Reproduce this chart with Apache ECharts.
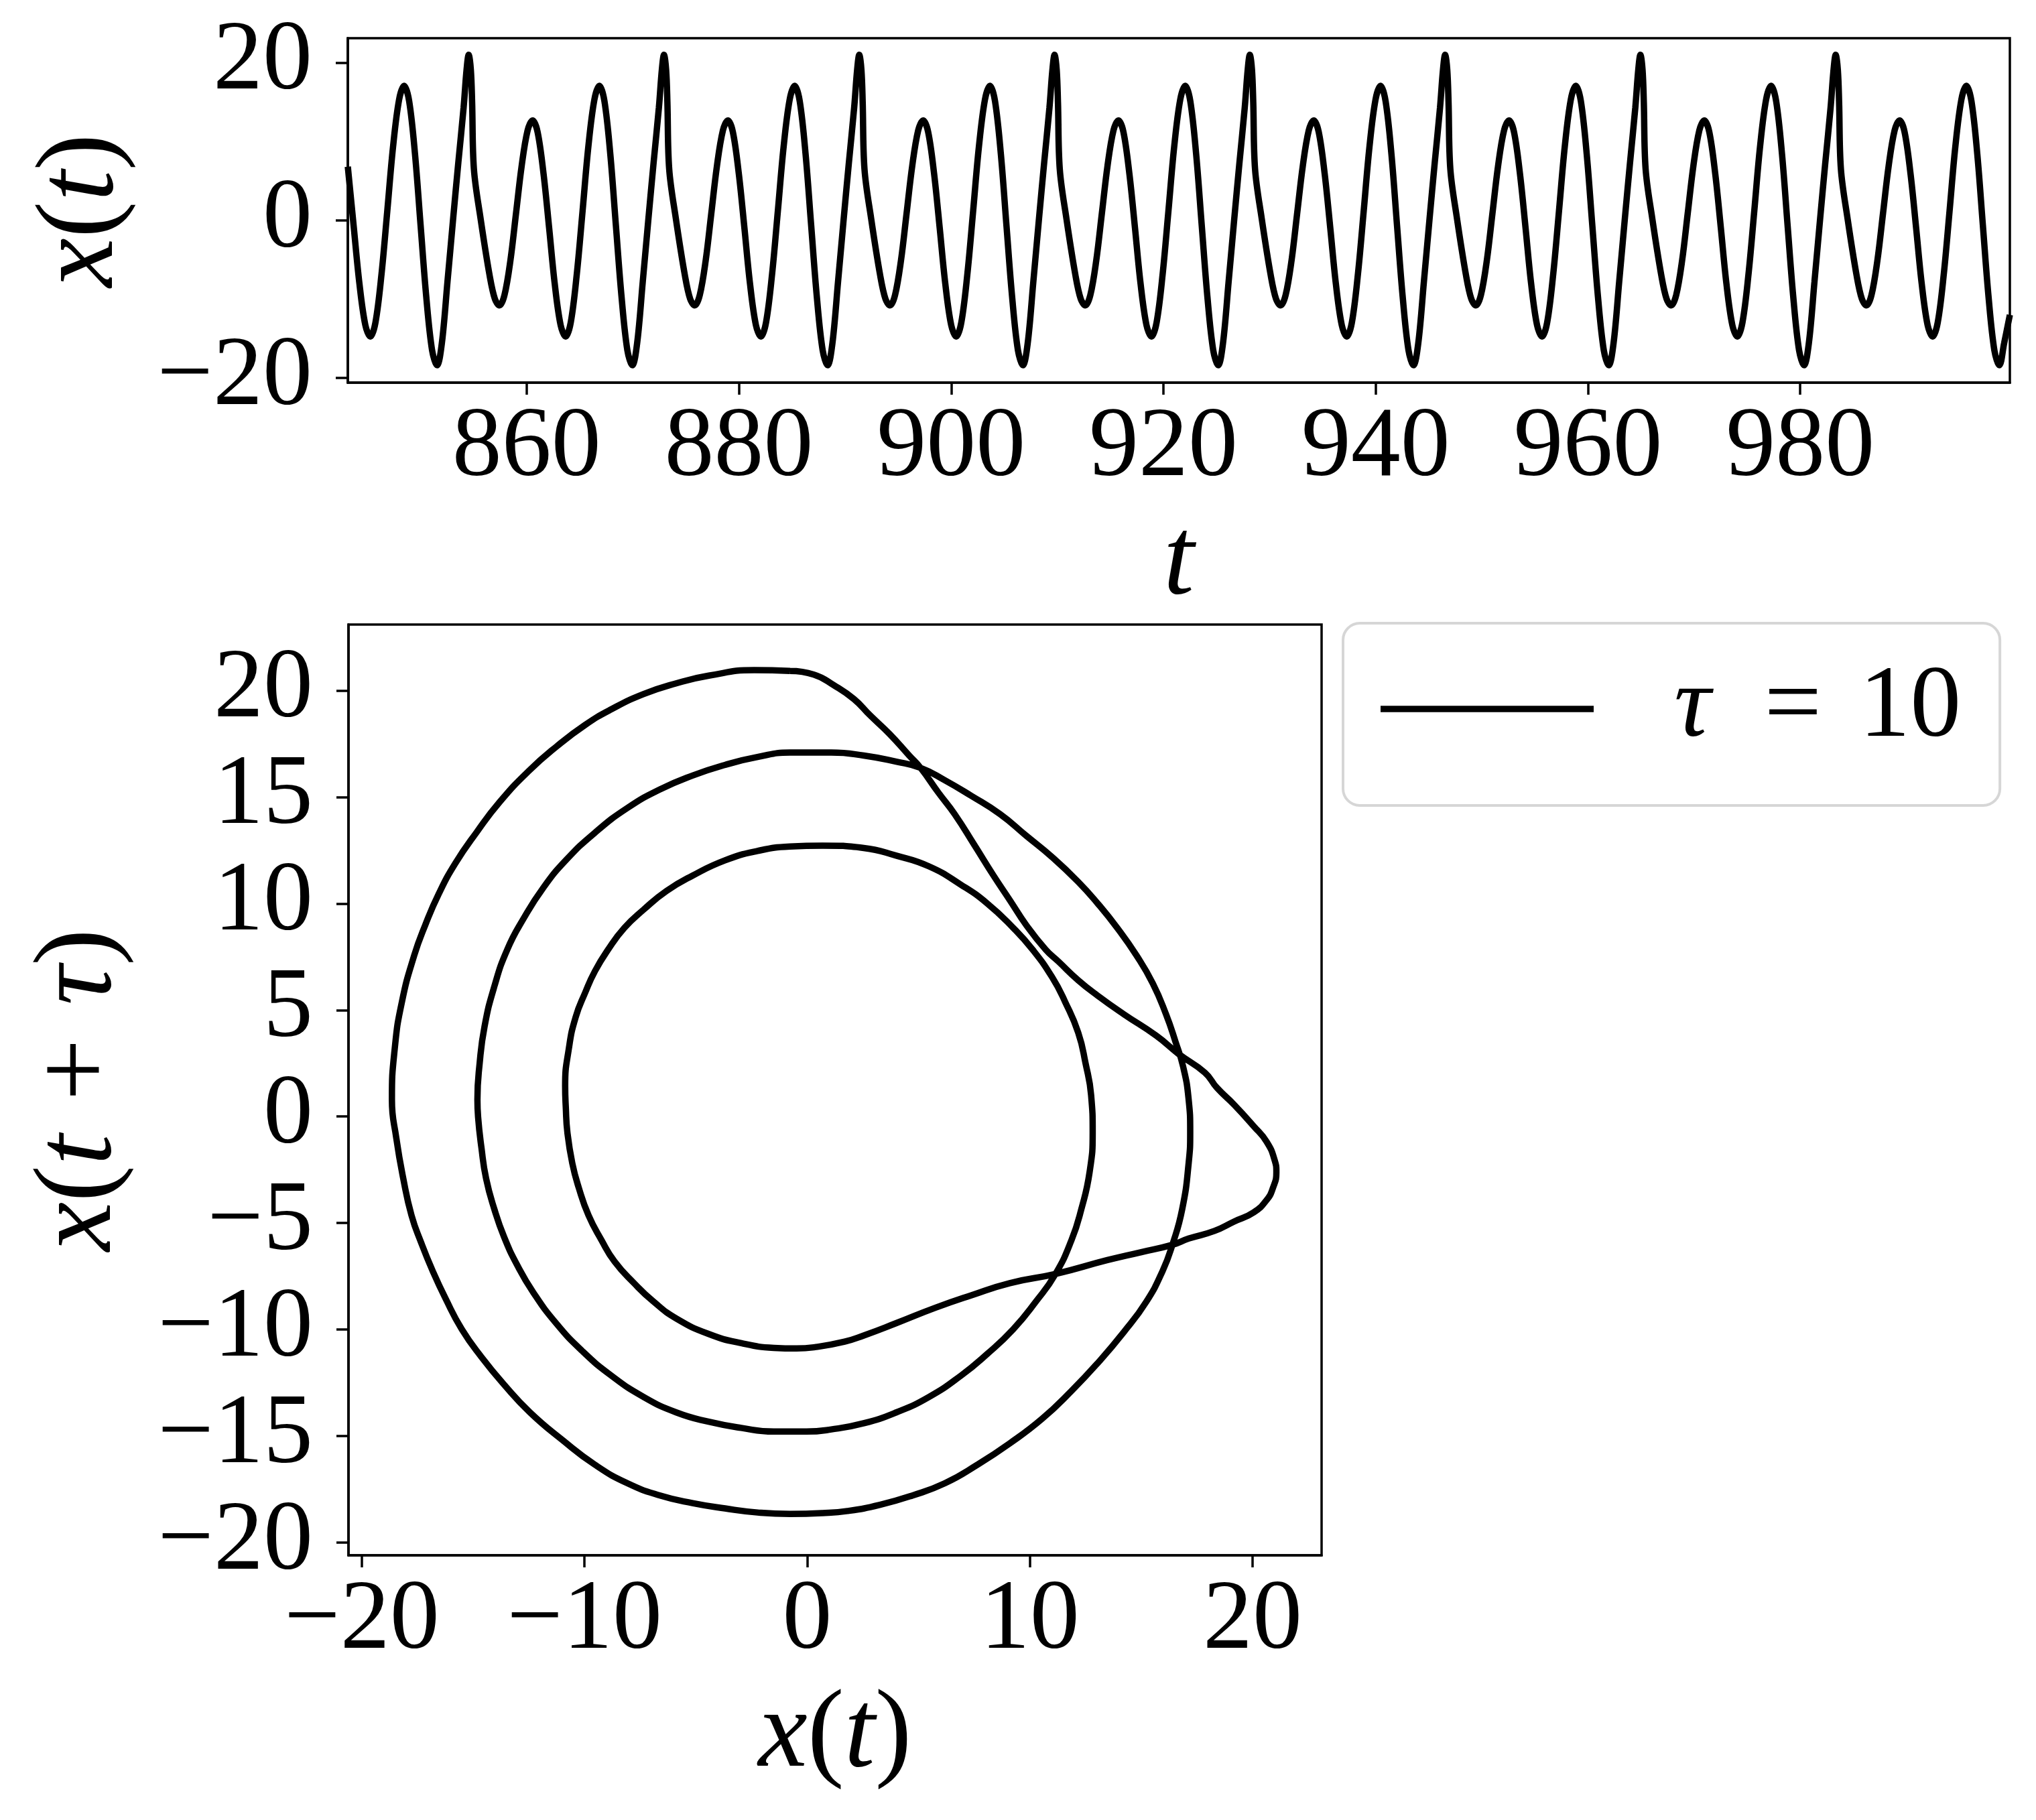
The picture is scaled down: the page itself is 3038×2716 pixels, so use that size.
<!DOCTYPE html>
<html><head><meta charset="utf-8">
<script src="https://cdn.jsdelivr.net/npm/echarts@6/dist/echarts.min.js"></script>
<style>html,body{margin:0;padding:0;background:#fff}#c{width:3038px;height:2716px}</style>
</head><body><div id="c"></div>
<script>
// ---------- data ----------
const timeTicks = [860, 880, 900, 920, 940, 960, 980];
const timeValueTicks = [-20, 0, 20];
const delayXTicks = [-20, -10, 0, 10, 20];
const delayYTicks = [-20, -15, -10, -5, 0, 5, 10, 15, 20];
const legendLabel = 'τ = 10';

// x(t): [t, x]
const timeSeries = [
[843.15,6.8],[843.72,-1.0],[844.24,-8.0],[844.80,-13.3],[845.27,-14.75],[845.75,-13.0],[846.32,-6.9],[846.87,1.2],[847.41,9.3],[847.98,15.3],[848.46,17.06],[848.93,15.1],[849.48,8.4],[850.01,-0.7],[850.54,-9.7],[851.09,-16.5],
[851.56,-18.4],[852.01,-15.6],[852.54,-7.8],[853.08,0.3],[853.56,7.3],[854.06,14.3],[854.34,19.1],[854.54,21.0],[854.74,19.1],[854.86,15.0],[855.03,6.5],[855.66,0.2],[856.51,-7.0],[857.01,-10.0],[857.44,-10.8],[857.91,-9.5],[858.47,-5.1],[859.00,0.9],[859.53,6.9],[860.09,11.4],[860.56,12.66],[861.03,11.2],[861.59,5.9],[862.12,-1.0],[862.64,-8.0],[863.20,-13.3],[863.67,-14.75],[864.15,-13.0],[864.72,-6.9],[865.27,1.2],[865.81,9.3],[866.38,15.3],[866.86,17.06],[867.33,15.1],[867.88,8.4],[868.41,-0.7],[868.94,-9.7],[869.49,-16.5],
[869.96,-18.4],[870.41,-15.6],[870.94,-7.8],[871.48,0.3],[871.96,7.3],[872.46,14.3],[872.74,19.1],[872.94,21.0],[873.14,19.1],[873.26,15.0],[873.43,6.5],[874.06,0.2],[874.91,-7.0],[875.41,-10.0],[875.84,-10.8],[876.31,-9.5],[876.87,-5.1],[877.40,0.9],[877.93,6.9],[878.49,11.4],[878.96,12.66],[879.43,11.2],[879.99,5.9],[880.52,-1.0],[881.04,-8.0],[881.60,-13.3],[882.07,-14.75],[882.55,-13.0],[883.12,-6.9],[883.67,1.2],[884.21,9.3],[884.78,15.3],[885.26,17.06],[885.73,15.1],[886.28,8.4],[886.81,-0.7],[887.34,-9.7],[887.89,-16.5],
[888.36,-18.4],[888.81,-15.6],[889.34,-7.8],[889.88,0.3],[890.36,7.3],[890.86,14.3],[891.14,19.1],[891.34,21.0],[891.54,19.1],[891.66,15.0],[891.83,6.5],[892.46,0.2],[893.31,-7.0],[893.81,-10.0],[894.24,-10.8],[894.71,-9.5],[895.27,-5.1],[895.80,0.9],[896.33,6.9],[896.89,11.4],[897.36,12.66],[897.83,11.2],[898.39,5.9],[898.92,-1.0],[899.44,-8.0],[900.00,-13.3],[900.47,-14.75],[900.95,-13.0],[901.52,-6.9],[902.07,1.2],[902.61,9.3],[903.18,15.3],[903.66,17.06],[904.13,15.1],[904.68,8.4],[905.21,-0.7],[905.74,-9.7],[906.29,-16.5],
[906.76,-18.4],[907.21,-15.6],[907.74,-7.8],[908.28,0.3],[908.76,7.3],[909.26,14.3],[909.54,19.1],[909.74,21.0],[909.94,19.1],[910.06,15.0],[910.23,6.5],[910.86,0.2],[911.71,-7.0],[912.21,-10.0],[912.64,-10.8],[913.11,-9.5],[913.67,-5.1],[914.20,0.9],[914.73,6.9],[915.29,11.4],[915.76,12.66],[916.23,11.2],[916.79,5.9],[917.32,-1.0],[917.84,-8.0],[918.40,-13.3],[918.87,-14.75],[919.35,-13.0],[919.92,-6.9],[920.47,1.2],[921.01,9.3],[921.58,15.3],[922.06,17.06],[922.53,15.1],[923.08,8.4],[923.61,-0.7],[924.14,-9.7],[924.69,-16.5],
[925.16,-18.4],[925.61,-15.6],[926.14,-7.8],[926.68,0.3],[927.16,7.3],[927.66,14.3],[927.94,19.1],[928.14,21.0],[928.34,19.1],[928.46,15.0],[928.63,6.5],[929.26,0.2],[930.11,-7.0],[930.61,-10.0],[931.04,-10.8],[931.51,-9.5],[932.07,-5.1],[932.60,0.9],[933.13,6.9],[933.69,11.4],[934.16,12.66],[934.63,11.2],[935.19,5.9],[935.72,-1.0],[936.24,-8.0],[936.80,-13.3],[937.27,-14.75],[937.75,-13.0],[938.32,-6.9],[938.87,1.2],[939.41,9.3],[939.98,15.3],[940.46,17.06],[940.93,15.1],[941.48,8.4],[942.01,-0.7],[942.54,-9.7],[943.09,-16.5],
[943.56,-18.4],[944.01,-15.6],[944.54,-7.8],[945.08,0.3],[945.56,7.3],[946.06,14.3],[946.34,19.1],[946.54,21.0],[946.74,19.1],[946.86,15.0],[947.03,6.5],[947.66,0.2],[948.51,-7.0],[949.01,-10.0],[949.44,-10.8],[949.91,-9.5],[950.47,-5.1],[951.00,0.9],[951.53,6.9],[952.09,11.4],[952.56,12.66],[953.03,11.2],[953.59,5.9],[954.12,-1.0],[954.64,-8.0],[955.20,-13.3],[955.67,-14.75],[956.15,-13.0],[956.72,-6.9],[957.27,1.2],[957.81,9.3],[958.38,15.3],[958.86,17.06],[959.33,15.1],[959.88,8.4],[960.41,-0.7],[960.94,-9.7],[961.49,-16.5],
[961.96,-18.4],[962.41,-15.6],[962.94,-7.8],[963.48,0.3],[963.96,7.3],[964.46,14.3],[964.74,19.1],[964.94,21.0],[965.14,19.1],[965.26,15.0],[965.43,6.5],[966.06,0.2],[966.91,-7.0],[967.41,-10.0],[967.84,-10.8],[968.31,-9.5],[968.87,-5.1],[969.40,0.9],[969.93,6.9],[970.49,11.4],[970.96,12.66],[971.43,11.2],[971.99,5.9],[972.52,-1.0],[973.04,-8.0],[973.60,-13.3],[974.07,-14.75],[974.55,-13.0],[975.12,-6.9],[975.67,1.2],[976.21,9.3],[976.78,15.3],[977.26,17.06],[977.73,15.1],[978.28,8.4],[978.81,-0.7],[979.34,-9.7],[979.89,-16.5],
[980.36,-18.4],[980.81,-15.6],[981.34,-7.8],[981.88,0.3],[982.36,7.3],[982.86,14.3],[983.14,19.1],[983.34,21.0],[983.54,19.1],[983.66,15.0],[983.83,6.5],[984.46,0.2],[985.31,-7.0],[985.81,-10.0],[986.24,-10.8],[986.71,-9.5],[987.27,-5.1],[987.80,0.9],[988.33,6.9],[988.89,11.4],[989.36,12.66],[989.83,11.2],[990.39,5.9],[990.92,-1.0],[991.44,-8.0],[992.00,-13.3],[992.47,-14.75],[992.95,-13.0],[993.52,-6.9],[994.07,1.2],[994.61,9.3],[995.18,15.3],[995.66,17.06],[996.13,15.1],[996.68,8.4],[997.21,-0.7],[997.74,-9.7],[998.29,-16.5],
[998.76,-18.4],[999.21,-15.6],[999.75,-12.0]
];

// delay embedding: [x(t), x(t+tau)]
const delayPoints = [
[-0.77,20.92],[-2.38,20.96],[-4.42,20.70],[-5.88,20.34],[-7.34,19.84],[-8.80,19.12],[-9.97,18.39],[-11.25,17.38],[-12.50,16.23],[-13.80,14.78],[-14.85,13.34],[-15.80,11.89],[-16.55,10.45],[-17.15,9.00],[-17.65,7.56],[-18.20,5.39],[-18.52,3.22],[-18.65,0.79],[-18.45,-1.03],[-18.14,-2.91],[-17.77,-4.64],[-17.33,-5.94],[-16.82,-7.25],[-16.24,-8.55],[-15.51,-9.99],[-14.63,-11.29],[-13.61,-12.59],[-12.45,-13.89],[-10.99,-15.19],[-9.53,-16.35],[-8.07,-17.22],[-6.61,-17.79],[-5.15,-18.15],[-3.69,-18.40],[-2.23,-18.59],[-0.77,-18.66],[0.69,-18.62],[1.81,-18.52],[3.27,-18.23],[4.73,-17.79],[6.18,-17.22],[7.64,-16.35],[9.10,-15.34],[10.56,-14.18],[11.87,-12.88],[13.04,-11.58],[14.21,-10.13],[15.23,-8.69],[15.96,-7.25],[16.40,-6.02],[16.84,-4.35],[17.13,-2.19],[17.20,-0.74],[17.12,0.90],[16.88,2.35],[16.54,3.51],[16.11,4.81],[15.52,6.25],[14.79,7.56],[13.92,8.86],[13.04,10.01],[12.17,11.02],[11.00,12.18],[9.83,13.19],[8.66,14.20],[7.35,15.07],[6.18,15.79],[5.09,16.37],[4.00,16.66],[2.54,16.95],[1.08,17.09],[-0.77,17.09],[-2.23,16.88],[-3.69,16.51],[-5.15,16.01],[-6.61,15.36],[-8.07,14.49],[-9.53,13.33],[-10.84,12.03],[-11.86,10.73],[-12.74,9.29],[-13.47,7.84],[-14.05,6.11],[-14.49,4.23],[-14.71,2.50],[-14.81,0.79],[-14.78,-0.02],[-14.63,-1.46],[-14.42,-2.91],[-14.05,-4.35],[-13.61,-5.66],[-13.03,-6.96],[-12.30,-8.26],[-11.28,-9.70],[-10.11,-11.00],[-8.80,-12.16],[-7.34,-13.17],[-5.88,-13.89],[-4.42,-14.33],[-2.96,-14.62],[-1.50,-14.79],[-0.04,-14.79],[1.08,-14.69],[2.54,-14.40],[4.00,-13.89],[5.46,-13.17],[6.91,-12.16],[8.08,-11.15],[9.25,-9.99],[10.27,-8.69],[11.15,-7.39],[11.87,-5.80],[12.31,-4.35],[12.68,-2.62],[12.82,-0.74],[12.75,1.00],[12.50,2.50],[12.17,3.94],[11.58,5.39],[11.00,6.54],[10.12,7.84],[9.25,8.86],[8.08,10.01],[6.91,10.88],[5.46,11.75],[4.00,12.25],[2.54,12.61],[0.69,12.72],[-0.77,12.68],[-2.23,12.47],[-3.69,12.03],[-5.15,11.31],[-6.32,10.59],[-7.34,9.72],[-8.21,8.86],[-8.94,7.84],[-9.53,6.83],[-9.97,5.82],[-10.40,4.66],[-10.70,3.22],[-10.87,1.43],[-10.84,0.41],[-10.77,-0.74],[-10.55,-2.19],[-10.26,-3.34],[-9.82,-4.64],[-9.24,-5.80],[-8.65,-6.81],[-7.78,-7.82],[-6.90,-8.69],[-5.88,-9.48],[-4.42,-10.21],[-2.96,-10.64],[-1.50,-10.86],[-0.48,-10.89],[0.39,-10.82],[1.68,-10.57],[2.54,-10.28],[4.00,-9.70],[5.75,-8.98],[7.35,-8.40],[9.10,-7.82],[11.15,-7.39],[13.48,-6.74],[14.94,-6.38],[16.40,-6.02],[17.13,-5.73],[18.29,-5.37],[19.17,-4.93],[20.05,-4.50],[20.63,-3.92],[20.92,-3.34],[21.07,-2.62],[20.99,-2.04],[20.63,-1.18],[20.05,-0.45],[19.17,0.56],[18.40,1.35],[17.86,2.06],[16.69,2.93],[15.67,3.80],[14.21,4.81],[13.04,5.68],[12.17,6.40],[11.29,7.27],[10.71,7.84],[9.83,9.00],[9.10,10.16],[8.37,11.31],[7.50,12.76],[6.62,14.20],[5.89,15.21],[5.09,16.37],[4.58,16.95],[3.70,17.96],[2.83,18.83],[2.10,19.60],[1.20,20.25],[0.30,20.75],[-0.77,20.92]
];

// ---------- styling ----------
const FONT = 'Liberation Serif';
const FS = 148;      // tick labels
const NFS = 165;     // axis names
const LINE_W = 9.5;
const fmt = v => String(v).replace('-', '\u2212');
const nameRich = {
  i: { fontStyle: 'italic', fontFamily: FONT, fontSize: NFS, color: '#000' },
  s: { width: 50 }
};

function valueAxis(ticks, gridIndex, min, max, margin, extra) {
  return Object.assign({
    type: 'value', gridIndex, min, max,
    axisLine: { show: true, onZero: false, lineStyle: { color: '#000', width: 3.5 } },
    axisTick: { show: true, length: 18, customValues: ticks, lineStyle: { color: '#000', width: 3.5 } },
    axisLabel: { customValues: ticks, formatter: fmt, color: '#000', fontFamily: FONT, fontSize: FS, margin },
    splitLine: { show: false },
    nameLocation: 'middle',
    nameTextStyle: { color: '#000', fontFamily: FONT, fontSize: NFS, rich: nameRich }
  }, extra);
}

const chart = echarts.init(document.getElementById('c'), null, { renderer: 'canvas' });
chart.setOption({
  animation: false,
  backgroundColor: '#fff',
  color: ['#000', '#000'],
  grid: [
    { left: 519, top: 57, width: 2480, height: 514, show: true, borderColor: '#000', borderWidth: 3.5, containLabel: false, outerBoundsMode: 'none' },
    { left: 520, top: 932, width: 1452, height: 1389, show: true, borderColor: '#000', borderWidth: 3.5, containLabel: false, outerBoundsMode: 'none' }
  ],
  xAxis: [
    valueAxis(timeTicks, 0, 843.15, 999.75, 25, { name: '{i|t}', nameGap: 188 }),
    valueAxis(delayXTicks, 1, -20.6, 23.1, 25, { name: '{i|x}({i|t})', nameGap: 188 })
  ],
  yAxis: [
    valueAxis(timeValueTicks, 0, -20.6, 23.1, 53, { name: '{i|x}({i|t})', nameGap: 313 }),
    valueAxis(delayYTicks, 1, -20.6, 23.1, 53, { name: '{i|x}({i|t}{s|}+{s|}{i|τ})', nameGap: 317 })
  ],
  legend: {
    data: [legendLabel],
    left: 2004, top: 930,
    padding: [52, 58, 68, 56],
    icon: 'rect', itemWidth: 318, itemHeight: 9.5,
    borderColor: '#d6d6d6', borderWidth: 4, borderRadius: 25, backgroundColor: '#fff',
    formatter: name => '{g|}' + name.replace('τ', '{i|τ}').replace(' = ', '{s|}={t|}'),
    textStyle: {
      color: '#000', fontFamily: FONT, fontSize: 152,
      rich: {
        g: { width: 115 }, s: { width: 80 }, t: { width: 56 },
        i: { fontStyle: 'italic', fontFamily: FONT, fontSize: 152, color: '#000' }
      }
    }
  },
  series: [
    { type: 'line', xAxisIndex: 0, yAxisIndex: 0, data: timeSeries, symbol: 'none', showSymbol: false,
      smooth: 0.35, lineStyle: { color: '#000', width: LINE_W }, itemStyle: { color: '#000' }, silent: true },
    { name: legendLabel, type: 'line', xAxisIndex: 1, yAxisIndex: 1, data: delayPoints, symbol: 'none', showSymbol: false,
      smooth: 0.5, lineStyle: { color: '#000', width: LINE_W }, itemStyle: { color: '#000' }, silent: true }
  ]
});
</script>
</body></html>
